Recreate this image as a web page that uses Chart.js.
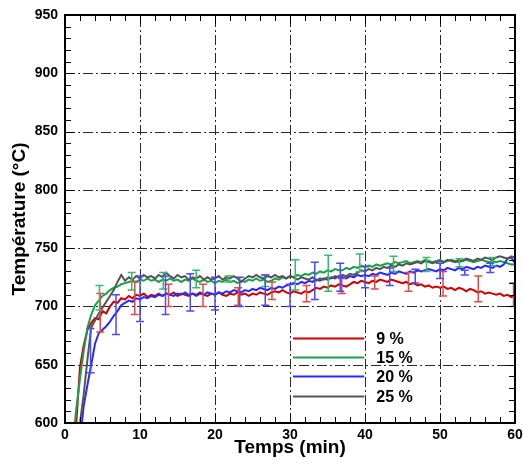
<!DOCTYPE html>
<html><head><meta charset="utf-8">
<script src="https://cdn.jsdelivr.net/npm/chart.js@4.4.0/dist/chart.umd.min.js"></script>
<style>html,body{margin:0;padding:0;background:#fff}</style>
</head><body>
<canvas id="c" width="523" height="472"></canvas>
<script>
const times = [1,1.5,2,2.5,3,3.5,4,4.5,5,5.5,6,6.5,7,7.5,8,8.5,9,9.5,10,
10.5,11,11.5,12,12.5,13,13.5,14,14.5,15,15.5,16,16.5,17,17.5,18,18.5,19,19.5,20,
20.5,21,21.5,22,22.5,23,23.5,24,24.5,25,25.5,26,26.5,27,27.5,28,28.5,29,29.5,30,
30.5,31,31.5,32,32.5,33,33.5,34,34.5,35,35.5,36,36.5,37,37.5,38,38.5,39,39.5,40,
40.5,41,41.5,42,42.5,43,43.5,44,44.5,45,45.5,46,46.5,47,47.5,48,48.5,49,49.5,50,
50.5,51,51.5,52,52.5,53,53.5,54,54.5,55,55.5,56,56.5,57,57.5,58,58.5,59,59.5,60];

const labels = ['9 %','15 %','20 %','25 %'];

const red9 = [560,600,648,667,680,686,690,689,696,694,700,704,703,707,706,709,707,710,709,
711,708,710,709,711,709,711,710,712,709,711,710,709,711,710,712,710,709,711,710,
712,710,709,711,710,712,710,711,709,711,710,712,711,710,712,713,712,714,712,711,
713,712,711,713,712,714,716,715,717,716,718,717,719,718,717,719,721,720,722,721,
720,722,721,723,722,721,723,722,721,720,721,719,720,718,719,717,718,716,717,716,
717,715,716,714,716,715,713,715,714,712,713,711,712,711,710,711,709,710,708,709];

const green15 = [580,612,638,662,682,693,701,705,709,711,714,716,717,719,720,721,722,721,723,
722,724,722,723,721,723,722,724,722,723,721,723,722,724,722,721,723,721,722,720,
722,721,723,721,722,720,722,721,723,722,724,722,723,721,722,724,723,725,724,726,
725,727,726,728,727,729,728,730,729,731,730,732,731,731,733,732,734,733,735,734,
735,734,736,735,736,737,736,738,737,738,739,737,738,739,738,740,739,738,739,740,
738,739,740,739,738,739,740,739,738,739,740,739,738,739,738,739,738,737,736,736];

const blue20 = [520,550,585,615,633,650,668,677,680,683,687,692,696,701,703,705,704,707,706,
708,707,709,708,710,709,711,710,709,711,710,712,710,711,709,711,710,712,711,710,
712,711,713,712,714,713,712,714,713,715,714,716,715,714,716,715,717,716,718,719,
720,719,721,720,722,721,723,722,724,723,725,724,726,725,724,726,725,727,726,727,
726,728,727,729,728,727,729,728,730,729,728,730,729,731,730,731,732,731,730,732,
731,733,732,731,733,732,734,733,732,734,733,735,734,733,735,734,736,741,742,737];

const grey25 = [540,565,600,625,655,682,688,694,699,704,709,714,721,727,722,725,723,726,724,
727,725,726,724,727,725,729,726,724,727,725,726,723,725,724,726,723,725,723,724,
726,723,725,724,726,724,721,724,726,725,727,725,724,726,725,727,725,726,724,726,
725,723,725,724,723,725,722,724,723,725,724,726,725,727,726,728,727,729,731,730,
732,731,733,732,734,733,735,734,736,735,737,736,737,738,737,739,738,737,738,739,
738,740,739,738,740,739,741,740,739,741,740,742,741,740,742,743,742,741,743,742];

// error bars: times, low, high
const redErrT  = [4.7,9.3,13.8,18.4,23.1,27.6,32.2,36.9,41.3,45.8,50.4,55.1,59.8];
const redErrLo = [678,693,700,700,701,706,704,711,715,713,709,704,700];
const redErrHi = [711,721,719,719,716,721,718,724,726,729,730,726,720];

const greenErrT  = [4.6,8.9,13.1,17.5,21.8,26.7,30.7,35.1,39.3,43.8,48.2,52.6,57.0];
const greenErrLo = [697,714,715,716,721,717,714,713,730,730,730,734,735];
const greenErrHi = [718,729,729,731,726,727,740,744,745,743,742,741,742];

const blueErrT  = [3.4,6.8,10.0,13.4,16.7,20.0,23.3,26.7,30.0,33.3,36.7,40.0,43.3,46.7,50.0,53.3,56.7];
const blueErrLo = [643,676,687,693,696,697,700,701,700,706,713,716,718,720,724,727,729];
const blueErrHi = [681,710,726,726,728,725,725,727,719,738,737,734,733,732,737,731,737];

const xTicks = [0,10,20,30,40,50,60];
const yTicks = [600,650,700,750,800,850,900,950];

const colors = ['#d00000','#17a24a','#2a2aff','#555555'];
const errColors = ['#e04a4a','#3cb86a','#4a4aff','#777777'];

function pts(arr){ return times.map((t,i)=>({x:t,y:arr[i]})); }

const datasets = [
  {label:labels[0], data:pts(red9), borderColor:colors[0], errT:redErrT, errLo:redErrLo, errHi:redErrHi, errColor:errColors[0], order:4},
  {label:labels[1], data:pts(green15), borderColor:colors[1], errT:greenErrT, errLo:greenErrLo, errHi:greenErrHi, errColor:errColors[1], order:3},
  {label:labels[2], data:pts(blue20), borderColor:colors[2], errT:blueErrT, errLo:blueErrLo, errHi:blueErrHi, errColor:errColors[2], order:2},
  {label:labels[3], data:pts(grey25), borderColor:colors[3], order:1}
].map(d=>Object.assign({borderWidth:2, pointRadius:0, tension:0, fill:false}, d));

const isMajorX = v => Math.abs(v % 10) < 1e-6;
const isMajorY = v => Math.abs(v % 50) < 1e-6;

const framePlugin = {
  id:'frame',
  beforeDatasetsDraw(chart){
    const {ctx, chartArea:a, scales:{x,y}} = chart;
    ctx.save();
    ctx.strokeStyle='#2a2a2a'; ctx.lineWidth=1; ctx.setLineDash([10,3,2,3]);
    xTicks.forEach(v=>{ if(v<=0||v>=60) return;
      const px=Math.round(x.getPixelForValue(v))+0.5;
      ctx.beginPath(); ctx.moveTo(px,a.bottom); ctx.lineTo(px,a.top); ctx.stroke(); });
    yTicks.forEach(v=>{ if(v<=600||v>=950) return;
      const py=Math.round(y.getPixelForValue(v))+0.5;
      ctx.beginPath(); ctx.moveTo(a.left,py); ctx.lineTo(a.right,py); ctx.stroke(); });
    ctx.restore();
  },
  afterDatasetsDraw(chart){
    const {ctx, chartArea:a, scales:{x,y}} = chart;
    // error bars
    ctx.save();
    ctx.beginPath(); ctx.rect(a.left,a.top,a.right-a.left,a.bottom-a.top); ctx.clip();
    chart.data.datasets.forEach(ds=>{
      if(!ds.errT) return;
      ctx.strokeStyle=ds.errColor; ctx.lineWidth=1.5;
      ds.errT.forEach((t,i)=>{
        const px=x.getPixelForValue(t), p1=y.getPixelForValue(ds.errLo[i]), p2=y.getPixelForValue(ds.errHi[i]);
        ctx.beginPath();
        ctx.moveTo(px,p1); ctx.lineTo(px,p2);
        ctx.moveTo(px-4,p1); ctx.lineTo(px+4,p1);
        ctx.moveTo(px-4,p2); ctx.lineTo(px+4,p2);
        ctx.stroke();
      });
    });
    ctx.restore();
    // ticks (inward, all four sides)
    ctx.save();
    ctx.strokeStyle='#000'; ctx.lineWidth=1;
    x.ticks.forEach(tk=>{
      const px=Math.round(x.getPixelForValue(tk.value))+0.5, L=isMajorX(tk.value)?9:6;
      ctx.beginPath();
      ctx.moveTo(px,a.bottom); ctx.lineTo(px,a.bottom-L);
      ctx.moveTo(px,a.top); ctx.lineTo(px,a.top+L);
      ctx.stroke();
    });
    y.ticks.forEach(tk=>{
      const py=Math.round(y.getPixelForValue(tk.value))+0.5, L=isMajorY(tk.value)?9:6;
      ctx.beginPath();
      ctx.moveTo(a.left,py); ctx.lineTo(a.left+L,py);
      ctx.moveTo(a.right,py); ctx.lineTo(a.right-L,py);
      ctx.stroke();
    });
    ctx.lineWidth=2;
    ctx.strokeRect(a.left,a.top,a.right-a.left,a.bottom-a.top);
    ctx.restore();
    // legend
    ctx.save();
    const lx0=x.getPixelForValue(30.4), lx1=x.getPixelForValue(39.9), tx=x.getPixelForValue(41.5);
    const rowT=[673,657,640,623];
    ctx.font='bold 16px "Liberation Sans", Arial, sans-serif';
    ctx.textBaseline='middle'; ctx.fillStyle='#000';
    chart.data.datasets.forEach((ds,i)=>{
      const py=Math.round(y.getPixelForValue(rowT[i]))+0.5;
      ctx.strokeStyle=ds.borderColor; ctx.lineWidth=2;
      ctx.beginPath(); ctx.moveTo(lx0,py); ctx.lineTo(lx1,py); ctx.stroke();
      ctx.fillText(ds.label, tx, py+1);
    });
    ctx.restore();
  }
};

new Chart(document.getElementById('c'), {
  type:'line',
  data:{datasets},
  options:{
    responsive:false, animation:false, devicePixelRatio:1,
    layout:{padding:{top:15,right:8,left:0,bottom:0}},
    plugins:{legend:{display:false}, tooltip:{enabled:false}},
    scales:{
      x:{type:'linear', min:0, max:60,
        ticks:{stepSize:2, autoSkip:false, maxRotation:0, padding:4, color:'#000',
          font:{family:'"Liberation Sans", Arial, sans-serif', size:14, weight:'bold'},
          callback:v=>isMajorX(v)?String(v):''},
        grid:{display:false, drawTicks:false}, border:{display:false},
        title:{display:true, text:'Temps (min)', color:'#000',
          font:{family:'"Liberation Sans", Arial, sans-serif', size:19, weight:'bold'},
          padding:{top:0,bottom:13}},
        afterFit:s=>{s.height=49; s.paddingLeft=0; s.paddingRight=0;}
      },
      y:{type:'linear', min:600, max:950,
        ticks:{stepSize:10, autoSkip:false, padding:7, color:'#000',
          font:{family:'"Liberation Sans", Arial, sans-serif', size:14, weight:'bold'},
          callback:v=>isMajorY(v)?String(v):''},
        grid:{display:false, drawTicks:false}, border:{display:false},
        title:{display:true, text:'Température (°C)', color:'#000',
          font:{family:'"Liberation Sans", Arial, sans-serif', size:19, weight:'bold'},
          padding:{top:8,bottom:0}},
        afterFit:s=>{s.width=65; s.paddingTop=0; s.paddingBottom=0;}
      }
    }
  },
  plugins:[framePlugin]
});
</script>
</body></html>
